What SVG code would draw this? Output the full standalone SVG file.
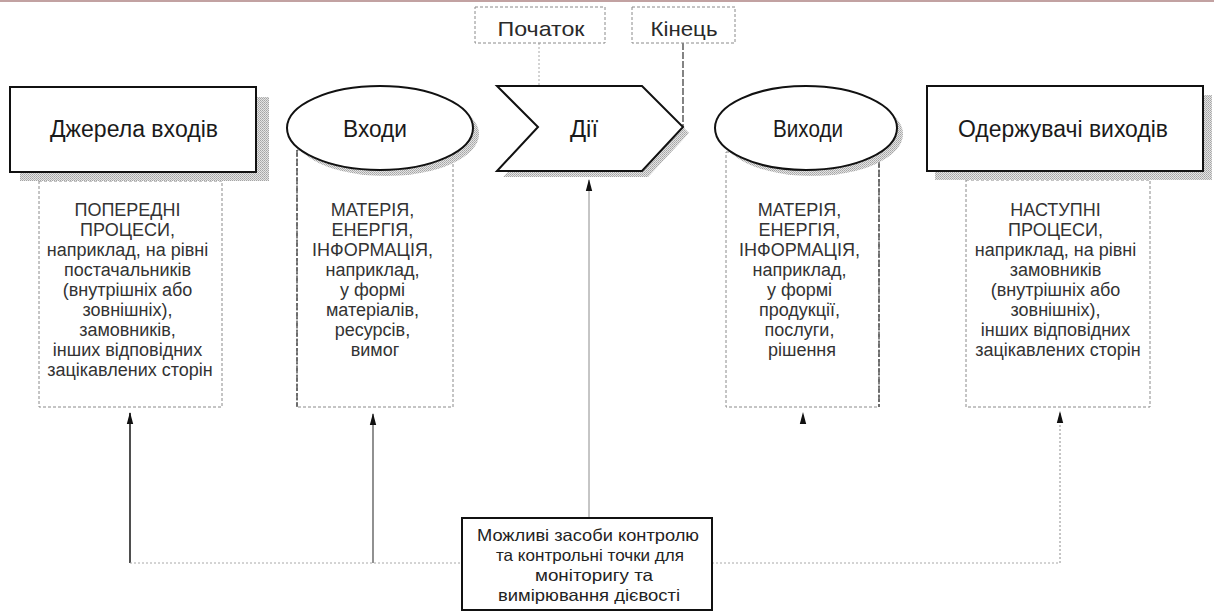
<svg xmlns="http://www.w3.org/2000/svg" width="1214" height="612" viewBox="0 0 1214 612">
  <defs>
    <pattern id="stip" width="2" height="2" patternUnits="userSpaceOnUse">
      <rect width="2" height="2" fill="#e4e4e4"/>
      <rect width="1" height="1" fill="#a4a4a4"/>
      <rect x="1" y="1" width="1" height="1" fill="#b4b4b4"/>
    </pattern>
    <marker id="ah" viewBox="0 0 12 8" refX="11" refY="4" markerWidth="12" markerHeight="8" markerUnits="userSpaceOnUse" orient="auto">
      <path d="M0,0.8 L12,4 L0,7.2 Z" fill="#111"/>
    </marker>
  </defs>
  <style>
    .main { fill: #fff; stroke: #111; stroke-width: 2; }
    .shadow { fill: url(#stip); stroke: none; }
    .dbox { fill: none; stroke: #8a8a8a; stroke-width: 1; stroke-dasharray: 3 2; }
    .lbl { font-family: "Liberation Sans", Arial, sans-serif; font-size: 23px; fill: #1a1a1a; text-anchor: middle; }
    .small { font-family: "Liberation Sans", Arial, sans-serif; font-size: 21px; fill: #2a2a2a; text-anchor: middle; }
    .body { font-family: "Liberation Sans", Arial, sans-serif; font-size: 18px; fill: #333; text-anchor: middle; }
    .ctl { font-family: "Liberation Sans", Arial, sans-serif; font-size: 16.5px; fill: #222; text-anchor: middle; }
    .dot { fill: none; stroke: #a8a8a8; stroke-width: 1; stroke-dasharray: 2 2; }
    .dark { fill: none; stroke: #333; stroke-width: 1.2; stroke-dasharray: 7 2; }
    .solid { fill: none; stroke: #444; stroke-width: 1.3; }
  </style>

  <rect x="0" y="0" width="1214" height="2" fill="#c2a2a2"/>

  <!-- connectors -->
  <g id="connectors">
    <path class="dot" d="M539,43 L539,127"/>
    <path class="dark" d="M683,43 L683,127"/>
    <path class="solid" style="stroke:#8c8c8c;stroke-width:1" d="M589,518 L589,180" marker-end="url(#ah)"/>
    <path class="solid" style="stroke:#222;stroke-width:1.6" d="M130,563 L130,413" marker-end="url(#ah)"/>
    <path class="solid" style="stroke:#555" d="M373,563 L373,414" marker-end="url(#ah)"/>
    <path class="dot" d="M130,563 L462,563"/>
    <path class="dot" d="M712,563 L1060,563"/>
    <path class="dot" style="stroke:#8c8c8c" d="M1060,563 L1060,412" marker-end="url(#ah)"/>
    <path d="M803,426 L803,413" stroke="none" fill="none" marker-end="url(#ah)"/>
  </g>

  <!-- Початок -->
  <g id="start">
    <rect class="dbox" x="475" y="7" width="130" height="36"/>
    <text class="small" x="541" y="36" textLength="87" lengthAdjust="spacingAndGlyphs">Початок</text>
  </g>

  <!-- Кінець -->
  <g id="end">
    <rect class="dbox" x="632" y="7" width="103" height="36"/>
    <text class="small" x="684" y="36" textLength="67" lengthAdjust="spacingAndGlyphs">Кінець</text>
  </g>

  <!-- Джерела входів -->
  <g id="sources">
    <rect class="dbox" x="39" y="181" width="183" height="226"/>
    <rect class="shadow" x="20" y="97" width="249" height="84"/>
    <rect class="main" x="10" y="87" width="246" height="85"/>
    <text class="lbl" x="134" y="137" textLength="168" lengthAdjust="spacingAndGlyphs">Джерела входів</text>
    <text class="body" x="130">
      <tspan x="130" y="216">ПОПЕРЕДНІ</tspan>
      <tspan x="130" y="236">ПРОЦЕСИ,</tspan>
      <tspan x="130" y="256">наприклад, на рівні</tspan>
      <tspan x="130" y="276">постачальників</tspan>
      <tspan x="130" y="296">(внутрішніх або</tspan>
      <tspan x="130" y="316">зовнішніх),</tspan>
      <tspan x="130" y="336">замовників,</tspan>
      <tspan x="130" y="356">інших відповідних</tspan>
      <tspan x="130" y="376">зацікавлених сторін</tspan>
    </text>
  </g>

  <!-- Входи -->
  <g id="inputs">
    <rect class="dbox" x="297" y="150" width="156" height="257"/>
    <path class="dark" d="M297,150 L297,407"/>
    <ellipse class="shadow" cx="386" cy="134" rx="93" ry="42"/>
    <ellipse class="main" cx="380" cy="128" rx="93" ry="42"/>
    <text class="lbl" x="375" y="137" textLength="64" lengthAdjust="spacingAndGlyphs">Входи</text>
    <text class="body" x="375">
      <tspan x="375" y="216">МАТЕРІЯ,</tspan>
      <tspan x="375" y="236">ЕНЕРГІЯ,</tspan>
      <tspan x="375" y="256">ІНФОРМАЦІЯ,</tspan>
      <tspan x="375" y="276">наприклад,</tspan>
      <tspan x="375" y="296">у формі</tspan>
      <tspan x="375" y="316">матеріалів,</tspan>
      <tspan x="375" y="336">ресурсів,</tspan>
      <tspan x="375" y="356">вимог</tspan>
    </text>
  </g>

  <!-- Дії -->
  <g id="actions">
    <polygon class="shadow" points="503,92 648,92 689,133 648,177 503,177 544,133"/>
    <polygon class="main" points="497,86 642,86 683,127 642,171 497,171 538,127"/>
    <text class="lbl" x="584" y="137" textLength="28" lengthAdjust="spacingAndGlyphs">Дії</text>
  </g>

  <!-- Виходи -->
  <g id="outputs">
    <rect class="dbox" x="726" y="152" width="153" height="255"/>
    <path class="dark" d="M879,152 L879,407"/>
    <ellipse class="shadow" cx="812" cy="134" rx="91" ry="42"/>
    <ellipse class="main" cx="806" cy="128" rx="91" ry="42"/>
    <text class="lbl" x="808" y="137" textLength="70" lengthAdjust="spacingAndGlyphs">Виходи</text>
    <text class="body" x="802">
      <tspan x="802" y="216">МАТЕРІЯ,</tspan>
      <tspan x="802" y="236">ЕНЕРГІЯ,</tspan>
      <tspan x="802" y="256">ІНФОРМАЦІЯ,</tspan>
      <tspan x="802" y="276">наприклад,</tspan>
      <tspan x="802" y="296">у формі</tspan>
      <tspan x="802" y="316">продукції,</tspan>
      <tspan x="802" y="336">послуги,</tspan>
      <tspan x="802" y="356">рішення</tspan>
    </text>
  </g>

  <!-- Одержувачі виходів -->
  <g id="receivers">
    <rect class="dbox" x="966" y="180" width="184" height="227"/>
    <rect class="shadow" x="935" y="95" width="277" height="85"/>
    <rect class="main" x="927" y="86" width="276" height="85"/>
    <text class="lbl" x="1063" y="137" textLength="210" lengthAdjust="spacingAndGlyphs">Одержувачі виходів</text>
    <text class="body" x="1058">
      <tspan x="1058" y="216">НАСТУПНІ</tspan>
      <tspan x="1058" y="236">ПРОЦЕСИ,</tspan>
      <tspan x="1058" y="256">наприклад, на рівні</tspan>
      <tspan x="1058" y="276">замовників</tspan>
      <tspan x="1058" y="296">(внутрішніх або</tspan>
      <tspan x="1058" y="316">зовнішніх),</tspan>
      <tspan x="1058" y="336">інших відповідних</tspan>
      <tspan x="1058" y="356">зацікавлених сторін</tspan>
    </text>
  </g>

  <!-- Можливі засоби контролю -->
  <g id="controls">
    <rect class="main" x="462" y="518" width="250" height="92"/>
    <text class="ctl" x="588" y="541" textLength="222" lengthAdjust="spacingAndGlyphs">Можливі засоби контролю</text>
    <text class="ctl" x="590" y="561" textLength="188" lengthAdjust="spacingAndGlyphs">та контрольні точки для</text>
    <text class="ctl" x="594" y="581" textLength="118" lengthAdjust="spacingAndGlyphs">моніторигу та</text>
    <text class="ctl" x="589" y="601" textLength="182" lengthAdjust="spacingAndGlyphs">вимірювання дієвості</text>
  </g>
</svg>
